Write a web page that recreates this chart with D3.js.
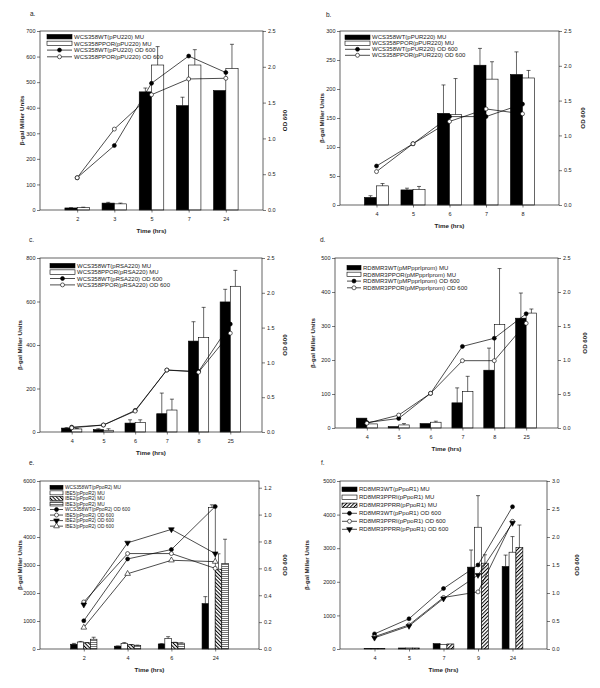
<!DOCTYPE html>
<html>
<head>
<meta charset="utf-8">
<script src="https://cdn.jsdelivr.net/npm/d3@7"></script>
<style>
  body { margin: 0; background: #fff; }
  svg { display: block; font-family: "Liberation Sans", Arial, sans-serif; }
</style>
</head>
<body>
<svg id="fig" width="600" height="688"></svg>
<script>
// ---- panel a ----
const aTimes = ['2', '3', '5', '7', '24'];
const aWtMU = [8, 27, 462, 408, 467];
const aWtMUErr = [1, 3, 15, 33, 0];
const aPporMU = [10, 24, 567, 567, 554];
const aPporMUErr = [1, 3, 72, 60, 94];
const aWtOD = [0.45, 0.90, 1.77, 2.15, 1.92];
const aPporOD = [0.45, 1.13, 1.61, 1.83, 1.84];
const aLabels = ['WCS358WT(pPU220) MU', 'WCS358PPOR(pPU220) MU', 'WCS358WT(pPU220) OD 600', 'WCS358PPOR(pPU220) OD 600'];

// ---- panel b ----
const bTimes = ['4', '5', '6', '7', '8'];
const bWtMU = [13, 26, 158, 241, 225];
const bWtMUErr = [3, 3, 49, 29, 39];
const bPporMU = [33, 27, 156, 217, 219];
const bPporMUErr = [4, 5, 62, 30, 13];
const bWtOD = [0.56, 0.88, 1.27, 1.27, 1.45];
const bPporOD = [0.48, 0.88, 1.20, 1.38, 1.31];
const bLabels = ['WCS358WT(pPUR220) MU', 'WCS358PPOR(pPUR220) MU', 'WCS358WT(pPUR220) OD 600', 'WCS358PPOR(pPUR220) OD 600'];

// ---- panel c ----
const cTimes = ['4', '5', '6', '7', '8', '25'];
const cWtMU = [18, 11, 41, 84, 418, 598];
const cWtMUErr = [2, 4, 15, 95, 89, 58];
const cPporMU = [14, 8, 44, 101, 434, 670];
const cPporMUErr = [2, 7, 12, 50, 139, 73];
const cWtOD = [0.07, 0.10, 0.31, 0.89, 0.87, 1.55];
const cPporOD = [0.06, 0.10, 0.30, 0.89, 0.86, 1.42];
const cLabels = ['WCS358WT(pRSA220) MU', 'WCS358PPOR(pRSA220) MU', 'WCS358WT(pRSA220) OD 600', 'WCS358PPOR(pRSA220) OD 600'];

// ---- panel d ----
const dTimes = ['4', '5', '6', '7', '8', '25'];
const dWtMU = [29, 4, 13, 74, 170, 323];
const dWtMUErr = [0, 0, 0, 44, 65, 74];
const dPporMU = [12, 9, 17, 107, 304, 338];
const dPporMUErr = [0, 4, 3, 45, 165, 12];
const dWtOD = [0.08, 0.14, 0.51, 1.20, 1.32, 1.68];
const dPporOD = [0.07, 0.19, 0.51, 0.99, 0.99, 1.54];
const dLabels = ['RD8MR3WT(pMPpprIprom) MU', 'RD8MR3PPOR(pMPpprIprom) MU', 'RD8MR3WT(pMPpprIprom) OD 600', 'RD8MR3PPOR(pMPpprIprom) OD 600'];

// ---- panel e ----
const eTimes = ['2', '4', '6', '24'];
const eWtMU = [170, 100, 180, 1620];
const eWtMUErr = [30, 10, 10, 250];
const eIbe5MU = [250, 200, 380, 5050];
const eIbe5MUErr = [20, 30, 60, 100];
const eIbe2MU = [220, 150, 230, 2850];
const eIbe2MUErr = [10, 10, 10, 550];
const eIbe3MU = [350, 130, 210, 3050];
const eIbe3MUErr = [70, 10, 10, 870];
const eWtOD = [0.21, 0.67, 0.74, 1.06];
const eIbe5OD = [0.35, 0.71, 0.71, 0.60];
const eIbe2OD = [0.33, 0.79, 0.89, 0.71];
const eIbe3OD = [0.16, 0.56, 0.66, 0.65];
const eLabels = ['WCS358WT(pPpoR2) MU', 'IBE5(pPpoR2) MU', 'IBE2(pPpoR2) MU', 'IBE3(pPpoR2) MU',
  'WCS358WT(pPpoR2) OD 600', 'IBE5(pPpoR2) OD 600', 'IBE2(pPpoR2) OD 600', 'IBE3(pPpoR2) OD 600'];

// ---- panel f ----
const fTimes = ['4', '5', '7', '9', '24'];
const fWtMU = [10, 30, 158, 2436, 2455];
const fWtMUErr = [0, 0, 0, 510, 340];
const fPpriMU = [10, 30, 140, 3624, 2881];
const fPpriMUErr = [0, 0, 0, 940, 465];
const fPprrMU = [10, 30, 150, 2554, 3020];
const fPprrMUErr = [0, 0, 0, 250, 670];
const fWtOD = [0.27, 0.54, 1.08, 1.50, 2.54];
const fPpriOD = [0.22, 0.43, 0.92, 1.02, 2.28];
const fPprrOD = [0.20, 0.41, 0.90, 1.32, 2.25];
const fLabels = ['RD8MR3WT(pPpoR1) MU', 'RD8MR3PPRI(pPpoR1) MU', 'RD8MR3PPRR(pPpoR1) MU',
  'RD8MR3WT(pPpoR1) OD 600', 'RD8MR3PPRI(pPpoR1) OD 600', 'RD8MR3PPRR(pPpoR1) OD 600'];

const INK = '#222';
const svg = d3.select('#fig');
const defs = svg.append('defs');

// hatch patterns
function hatch(id, angle) {
  const p = defs.append('pattern').attr('id', id)
    .attr('patternUnits', 'userSpaceOnUse')
    .attr('width', 2.6).attr('height', 2.6)
    .attr('patternTransform', `rotate(${angle})`);
  p.append('rect').attr('width', 2.6).attr('height', 2.6).attr('fill', '#fff');
  p.append('line').attr('x1', 0.5).attr('x2', 0.5).attr('y1', 0).attr('y2', 2.6)
    .attr('stroke', '#000').attr('stroke-width', 1);
}
hatch('backHatch', -45);
hatch('fwdHatch', 45);
const hp = defs.append('pattern').attr('id', 'hLines')
  .attr('patternUnits', 'userSpaceOnUse').attr('width', 4).attr('height', 2);
hp.append('rect').attr('width', 4).attr('height', 2).attr('fill', '#fff');
hp.append('line').attr('x1', 0).attr('x2', 4).attr('y1', 0.5).attr('y2', 0.5)
  .attr('stroke', '#777').attr('stroke-width', 1);

function drawMarker(sel, type, fill, cx, cy) {
  if (type === 'circle') {
    sel.append('circle').attr('cx', cx).attr('cy', cy).attr('r', 2)
      .attr('fill', fill).attr('stroke', '#000').attr('stroke-width', 0.6);
  } else {
    const rot = type === 'down' ? 180 : 0;
    sel.append('path').attr('d', d3.symbol(d3.symbolTriangle, 14)())
      .attr('transform', `translate(${cx},${cy}) rotate(${rot})`)
      .attr('fill', fill).attr('stroke', '#000').attr('stroke-width', 0.6);
  }
}

function drawPanel(p) {
  const g = svg.append('g');
  const n = p.cats.length;
  const x = d3.scaleLinear().domain([0, n + 1]).range([p.left, p.right]);
  const y = d3.scaleLinear().domain([0, p.yMax]).range([p.bottom, p.top]);
  const y2 = d3.scaleLinear().domain([0, p.y2Max]).range([p.bottom, p.top]);
  const bw = p.barW * (x(1) - x(0));
  const m = p.bars.length;

  // bars with error bars
  p.bars.forEach((s, i) => {
    const off = (i - (m - 1) / 2) * bw;
    g.append('g').selectAll('rect').data(s.vals).join('rect')
      .attr('x', (d, j) => x(j + 1) + off - bw / 2)
      .attr('y', d => y(d))
      .attr('width', bw)
      .attr('height', d => p.bottom - y(d))
      .attr('fill', s.fill)
      .attr('stroke', '#000')
      .attr('stroke-width', 0.6);
    const eg = g.append('g').attr('stroke', '#000').attr('stroke-width', 0.6);
    s.vals.forEach((d, j) => {
      if (!s.err[j]) return;
      const cx = x(j + 1) + off;
      const top = y(d + s.err[j]);
      eg.append('line').attr('x1', cx).attr('x2', cx).attr('y1', y(d)).attr('y2', top);
      eg.append('line').attr('x1', cx - 2).attr('x2', cx + 2).attr('y1', top).attr('y2', top);
    });
  });

  // OD lines
  const lineGen = d3.line().x((d, j) => x(j + 1)).y(d => y2(d));
  p.lines.forEach(s => {
    g.append('path').datum(s.vals)
      .attr('d', lineGen)
      .attr('fill', 'none')
      .attr('stroke', '#000')
      .attr('stroke-width', 0.7);
    const mg = g.append('g');
    s.vals.forEach((d, j) => drawMarker(mg, s.marker, s.fill, x(j + 1), y2(d)));
  });

  // frame
  g.append('rect')
    .attr('x', p.left).attr('y', p.top)
    .attr('width', p.right - p.left).attr('height', p.bottom - p.top)
    .attr('fill', 'none').attr('stroke', INK).attr('stroke-width', 0.7);

  const styleAxis = (a) => {
    a.select('.domain').remove();
    a.selectAll('line').attr('stroke', INK).attr('stroke-width', 0.6);
    a.selectAll('text').attr('font-size', 5.5).attr('fill', INK).attr('font-family', null);
  };

  g.append('g').attr('transform', `translate(${p.left},0)`)
    .call(d3.axisLeft(y).tickValues(d3.range(0, p.yMax + p.yStep / 2, p.yStep))
      .tickSize(3).tickPadding(1.5).tickFormat(d3.format('d')))
    .call(styleAxis);

  g.append('g').attr('transform', `translate(${p.right},0)`)
    .call(d3.axisRight(y2).tickValues(d3.range(0, p.y2Top + p.y2Step / 2, p.y2Step))
      .tickSize(3).tickPadding(2).tickFormat(d3.format('.1f')))
    .call(styleAxis);

  g.append('g').attr('transform', `translate(0,${p.bottom})`)
    .call(d3.axisBottom(x).tickValues(d3.range(1, n + 1))
      .tickSize(2.5).tickPadding(5).tickFormat((d) => p.cats[d - 1]))
    .call(styleAxis);

  // titles
  g.append('text').text(p.letter)
    .attr('x', p.letterX).attr('y', p.letterY)
    .attr('font-size', 6.5).attr('fill', INK);

  g.append('text').text('Time (hrs)')
    .attr('x', (p.left + p.right) / 2).attr('y', p.bottom + 23)
    .attr('text-anchor', 'middle').attr('font-size', 6.2).attr('font-weight', 'bold').attr('fill', INK);

  const midY = (p.top + p.bottom) / 2;
  g.append('text').text('β-gal Miller Units')
    .attr('transform', `translate(${p.yTitleX},${midY}) rotate(-90)`)
    .attr('text-anchor', 'middle').attr('dy', '0.35em')
    .attr('font-size', 6.2).attr('font-weight', 'bold').attr('fill', INK);

  g.append('text').text('OD 600')
    .attr('transform', `translate(${p.y2TitleX},${midY}) rotate(-90)`)
    .attr('text-anchor', 'middle').attr('dy', '0.35em')
    .attr('font-size', 6.2).attr('font-weight', 'bold').attr('fill', INK);

  // legend
  const lg = g.append('g');
  const items = p.bars.map(s => ({ kind: 'bar', s })).concat(p.lines.map(s => ({ kind: 'line', s })));
  const sw0 = p.legend.x0, sw1 = p.legend.x1;
  items.forEach((it, i) => {
    const cy = p.legend.y0 + i * p.legend.dy;
    if (it.kind === 'bar') {
      lg.append('rect').attr('x', sw0).attr('y', cy - p.legend.h / 2)
        .attr('width', sw1 - sw0).attr('height', p.legend.h)
        .attr('fill', it.s.fill).attr('stroke', '#000').attr('stroke-width', 0.6);
    } else {
      lg.append('line').attr('x1', sw0).attr('x2', sw1).attr('y1', cy).attr('y2', cy)
        .attr('stroke', '#000').attr('stroke-width', 0.7);
      drawMarker(lg, it.s.marker, it.s.fill, (sw0 + sw1) / 2, cy);
    }
    lg.append('text').text(p.labels[i])
      .attr('x', sw1 + 2).attr('y', cy).attr('dy', '0.35em')
      .attr('font-size', p.legend.fs).attr('fill', INK);
  });
}

drawPanel({
  letter: 'a.', letterX: 30, letterY: 16,
  cats: aTimes, left: 40, right: 263, top: 31, bottom: 210,
  yMax: 700, yStep: 100, y2Max: 2.5, y2Top: 2.5, y2Step: 0.5,
  yTitleX: 22, y2TitleX: 285, barW: 0.33,
  bars: [{ vals: aWtMU, err: aWtMUErr, fill: '#000' }, { vals: aPporMU, err: aPporMUErr, fill: '#fff' }],
  lines: [{ vals: aWtOD, marker: 'circle', fill: '#000' }, { vals: aPporOD, marker: 'circle', fill: '#fff' }],
  labels: aLabels, legend: { x0: 47, x1: 72, y0: 36.7, dy: 6.7, h: 4.5, fs: 6 }
});

drawPanel({
  letter: 'b.', letterX: 326, letterY: 17,
  cats: bTimes, left: 340, right: 559, top: 31, bottom: 205,
  yMax: 300, yStep: 50, y2Max: 2.5, y2Top: 2.5, y2Step: 0.5,
  yTitleX: 322, y2TitleX: 583, barW: 0.33,
  bars: [{ vals: bWtMU, err: bWtMUErr, fill: '#000' }, { vals: bPporMU, err: bPporMUErr, fill: '#fff' }],
  lines: [{ vals: bWtOD, marker: 'circle', fill: '#000' }, { vals: bPporOD, marker: 'circle', fill: '#fff' }],
  labels: bLabels, legend: { x0: 345, x1: 370, y0: 37.3, dy: 6, h: 4.5, fs: 6 }
});

drawPanel({
  letter: 'c.', letterX: 29, letterY: 242,
  cats: cTimes, left: 40, right: 262, top: 258, bottom: 432,
  yMax: 800, yStep: 200, y2Max: 2.5, y2Top: 2.5, y2Step: 0.5,
  yTitleX: 20, y2TitleX: 285, barW: 0.32,
  bars: [{ vals: cWtMU, err: cWtMUErr, fill: '#000' }, { vals: cPporMU, err: cPporMUErr, fill: '#fff' }],
  lines: [{ vals: cWtOD, marker: 'circle', fill: '#000' }, { vals: cPporOD, marker: 'circle', fill: '#fff' }],
  labels: cLabels, legend: { x0: 50, x1: 75, y0: 265.7, dy: 6.4, h: 4.5, fs: 6 }
});

drawPanel({
  letter: 'd.', letterX: 320, letterY: 242,
  cats: dTimes, left: 335, right: 558, top: 258, bottom: 428,
  yMax: 500, yStep: 100, y2Max: 2.5, y2Top: 2.5, y2Step: 0.5,
  yTitleX: 313, y2TitleX: 585, barW: 0.33,
  bars: [{ vals: dWtMU, err: dWtMUErr, fill: '#000' }, { vals: dPporMU, err: dPporMUErr, fill: '#fff' }],
  lines: [{ vals: dWtOD, marker: 'circle', fill: '#000' }, { vals: dPporOD, marker: 'circle', fill: '#fff' }],
  labels: dLabels, legend: { x0: 347, x1: 361, y0: 267.7, dy: 6.7, h: 4.5, fs: 6 }
});

drawPanel({
  letter: 'e.', letterX: 29, letterY: 465,
  cats: eTimes, left: 40, right: 259, top: 481, bottom: 649,
  yMax: 6000, yStep: 1000, y2Max: 1.25, y2Top: 1.2, y2Step: 0.2,
  yTitleX: 20, y2TitleX: 285, barW: 0.15,
  bars: [
    { vals: eWtMU, err: eWtMUErr, fill: '#000' },
    { vals: eIbe5MU, err: eIbe5MUErr, fill: '#fff' },
    { vals: eIbe2MU, err: eIbe2MUErr, fill: 'url(#backHatch)' },
    { vals: eIbe3MU, err: eIbe3MUErr, fill: 'url(#hLines)' }
  ],
  lines: [
    { vals: eWtOD, marker: 'circle', fill: '#000' },
    { vals: eIbe5OD, marker: 'circle', fill: '#fff' },
    { vals: eIbe2OD, marker: 'down', fill: '#000' },
    { vals: eIbe3OD, marker: 'up', fill: '#fff' }
  ],
  labels: eLabels, legend: { x0: 50, x1: 63, y0: 487.3, dy: 5.55, h: 4, fs: 4.8 }
});

drawPanel({
  letter: 'f.', letterX: 321, letterY: 465,
  cats: fTimes, left: 340, right: 547, top: 481, bottom: 649,
  yMax: 5000, yStep: 1000, y2Max: 3.0, y2Top: 3.0, y2Step: 0.5,
  yTitleX: 307, y2TitleX: 577, barW: 0.2,
  bars: [
    { vals: fWtMU, err: fWtMUErr, fill: '#000' },
    { vals: fPpriMU, err: fPpriMUErr, fill: '#fff' },
    { vals: fPprrMU, err: fPprrMUErr, fill: 'url(#fwdHatch)' }
  ],
  lines: [
    { vals: fWtOD, marker: 'circle', fill: '#000' },
    { vals: fPpriOD, marker: 'circle', fill: '#fff' },
    { vals: fPprrOD, marker: 'down', fill: '#000' }
  ],
  labels: fLabels, legend: { x0: 342, x1: 357, y0: 489.3, dy: 8, h: 4.5, fs: 6 }
});
</script>
</body>
</html>
